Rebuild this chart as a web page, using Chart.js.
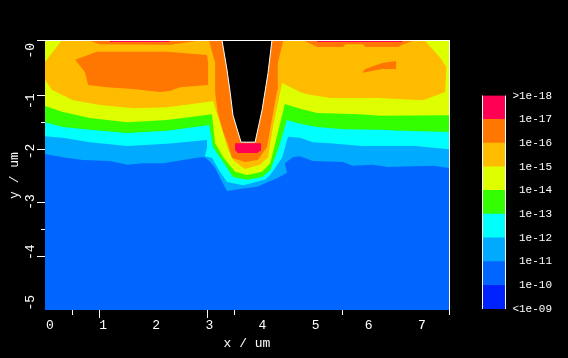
<!DOCTYPE html>
<html><head><meta charset="utf-8">
<style>html,body{margin:0;padding:0;background:#000;overflow:hidden}
#wrap{position:relative;width:568px;height:358px;background:#000}
canvas{position:absolute}
#main{left:0;top:0}#bar{left:470px;top:85px}</style>
<script src="https://cdn.jsdelivr.net/npm/chart.js@4"></script></head>
<body><div id="wrap"><canvas id="main" width="568" height="358"></canvas><canvas id="bar" width="98" height="235"></canvas></div>
<script>
// colour bar
const levelLabels = ["<1e-09","1e-10","1e-11","1e-12","1e-13","1e-14","1e-15","1e-16","1e-17",">1e-18"];
const levelColors = ["#0022ff","#0066ff","#00aaff","#00ffff","#33ff00","#ddff00","#ffbb00","#ff7700","#ff0055"];
// axes
const xTickValues = [0,1,2,3,4,5,6,7];
const yTickValues = [0,1,2,3,4,5];
const xMajorTicks = [1,3];
const xMinorTicks = [0.5,3.5,5.5];
const yMajorTicks = [-1,-2,-3,-4];
const yMinorTicks = [-1.5,-3.5];
// contours (x / um, y / um)
const domainX = [0,7.48,7.48,0];
const domainY = [0,0,-5,-5];
const c11X = [0,.33,.70,1.20,1.52,1.81,2.19,2.56,2.87,2.96,3.06,3.15,3.28,3.37,3.61,3.93,4.13,4.30,4.48,4.44,4.59,4.72,4.96,5.52,5.69,6.06,6.35,7.19,7.48,7.48,0];
const c11Y = [-2.10,-2.16,-2.21,-2.23,-2.30,-2.27,-2.27,-2.21,-2.16,-2.16,-2.25,-2.36,-2.62,-2.79,-2.75,-2.71,-2.62,-2.55,-2.45,-2.27,-2.16,-2.14,-2.23,-2.25,-2.32,-2.30,-2.34,-2.32,-2.36,0,0];
const c12X = [0,.33,.83,1.52,2.26,3,3,2.96,3.09,3.24,3.37,3.67,4.07,4.17,4.39,4.50,4.72,4.96,5.28,5.87,6.85,7.48,7.48,0];
const c12Y = [-1.77,-1.80,-1.88,-1.95,-1.91,-1.84,-1.99,-2.14,-2.17,-2.43,-2.62,-2.68,-2.58,-2.49,-2.17,-1.78,-1.80,-1.88,-1.90,-1.95,-1.95,-2.01,0,0];
const c13X = [0,.33,.83,1.52,2.26,3.04,3.11,3.30,3.48,3.74,4.02,4.17,4.31,4.48,4.72,5.04,5.52,6.20,6.63,7.48,7.48,0];
const c13Y = [-1.51,-1.60,-1.65,-1.71,-1.67,-1.56,-1.97,-2.25,-2.53,-2.58,-2.53,-2.40,-2.03,-1.47,-1.54,-1.60,-1.64,-1.65,-1.67,-1.69,0,0];
const c14X = [0,.33,.83,1.52,2.26,3.09,3.15,3.30,3.52,3.74,4.02,4.17,4.31,4.44,4.72,5.04,5.83,6.20,7.48,7.48,0];
const c14Y = [-1.21,-1.32,-1.43,-1.51,-1.47,-1.36,-1.90,-2.16,-2.43,-2.49,-2.43,-2.27,-1.71,-1.17,-1.26,-1.34,-1.36,-1.39,-1.38,0,0];
const c15X = [.30,0,0,.13,.52,1.02,1.63,2.26,3.11,3.28,3.37,3.48,3.70,3.98,4.13,4.22,4.39,4.72,4.85,5.28,6.15,7.0,7.41,7.43,7.31,7.04];
const c15Y = [0,-.39,-.72,-.91,-1.10,-1.19,-1.25,-1.23,-1.12,-1.65,-1.97,-2.21,-2.38,-2.30,-2.16,-1.60,-.78,-.95,-.99,-1.06,-1.06,-1.10,-.95,-.48,-.30,0];
const c16TrenchX = [3.04,3.15,3.15,3.20,3.30,3.39,3.46,3.70,3.94,4.11,4.20,4.30,4.31,4.41];
const c16TrenchY = [0,-.41,-.97,-1.34,-1.69,-1.93,-2.17,-2.25,-2.21,-1.97,-1.47,-.91,-.41,0];
const c16BlobX = [.56,.74,.80,1.15,1.63,2.13,2.31,2.50,3.02,3.02,3,2.26,.96];
const c16BlobY = [-.35,-.58,-.82,-.86,-.89,-.95,-.93,-.86,-.82,-.41,-.26,-.20,-.20];
const c16TopLeftX = [.83,1.02,2.31,2.81];
const c16TopLeftY = [0,-.06,-.07,0];
const c16TopRightX = [4.81,5.04,5.52,5.56,5.89,5.93,6.54,6.63,6.81];
const c16TopRightY = [0,-.11,-.11,-.06,-.06,-.11,-.11,-.06,0];
const c16SliverX = [5.87,5.93,6.24,6.50,6.50,6.24,5.93];
const c16SliverY = [-.59,-.52,-.41,-.37,-.52,-.52,-.58];
const c17BlobX = [3.52,4,4,3.93,3.57,3.52];
const c17BlobY = [-1.90,-1.90,-2.03,-2.08,-2.08,-2.03];
const c17TopLeftX = [1.2,2.3,2.3,1.2];
const c17TopLeftY = [0,0,-.02,-.02];
const c17TopRightX = [5.04,6.61,6.61,5.04];
const c17TopRightY = [0,0,-.02,-.02];
const trenchX = [3.28,3.37,3.43,3.48,3.63,3.89,4.02,4.13,4.20];
const trenchY = [0,-.54,-.97,-1.38,-1.88,-1.88,-1.28,-.59,0];

const FONT = '"Liberation Mono", monospace';
const layers = [
  [domainX,domainY,levelColors[1]],
  [c11X,c11Y,levelColors[2]],
  [c12X,c12Y,levelColors[3]],
  [c13X,c13Y,levelColors[4]],
  [c14X,c14Y,levelColors[5]],
  [c15X,c15Y,levelColors[6]],
  [c16TrenchX,c16TrenchY,levelColors[7]],
  [c16BlobX,c16BlobY,levelColors[7]],
  [c16TopLeftX,c16TopLeftY,levelColors[7]],
  [c16TopRightX,c16TopRightY,levelColors[7]],
  [c16SliverX,c16SliverY,levelColors[7]],
  [c17BlobX,c17BlobY,levelColors[8]],
  [c17TopLeftX,c17TopLeftY,levelColors[8]],
  [c17TopRightX,c17TopRightY,levelColors[8]],
  [trenchX,trenchY,"#000000"]
];
const datasets = layers.map((l,i)=>({
  data:l[0].map((x,j)=>({x,y:l[1][j]})),
  showLine:true,fill:'shape',backgroundColor:l[2],
  borderColor:l[0]===trenchX?'#ffffff':l[2],borderWidth:l[0]===trenchX?1:0,
  pointRadius:0,tension:0,order:-i
}));
const tickPlugin = {id:'frameTicks',afterDatasetsDraw(c){
  const g=c.ctx,X=c.scales.x,Y=c.scales.y,a=c.chartArea;
  g.save();g.strokeStyle='#fff';g.lineWidth=1;
  const line=(x1,y1,x2,y2)=>{g.beginPath();g.moveTo(x1,y1);g.lineTo(x2,y2);g.stroke();};
  const sx=v=>Math.round(X.getPixelForValue(v))+.5, sy=v=>Math.round(Y.getPixelForValue(v))+.5;
  xMajorTicks.forEach(v=>line(sx(v),a.bottom,sx(v),a.bottom+8));
  xMinorTicks.forEach(v=>line(sx(v),a.bottom,sx(v),a.bottom+5));
  yMajorTicks.forEach(v=>line(a.left-8,sy(v),a.left,sy(v)));
  yMinorTicks.forEach(v=>line(a.left-4,sy(v),a.left,sy(v)));
  line(a.left-8,a.top-.5,a.right+1,a.top-.5);
  line(a.right+.5,a.top,a.right+.5,a.bottom+5);
  g.restore();
}};
new Chart(document.getElementById('main'),{
  type:'scatter',
  data:{datasets},
  plugins:[tickPlugin],
  options:{
    responsive:false,animation:false,
    layout:{padding:{left:0,top:41,right:119,bottom:0}},
    plugins:{legend:{display:false},tooltip:{enabled:false}},
    scales:{
      x:{type:'linear',min:0,max:7.48,display:false},
      y:{type:'linear',min:-5,max:0,display:false},
      xTicks:{axis:'x',type:'linear',position:'bottom',min:-.094,max:7.51,
        afterBuildTicks:s=>{s.ticks=xTickValues.map(value=>({value}));},
        afterFit:s=>{s.height=48;},
        grid:{display:false},border:{display:false},
        ticks:{color:'#fff',font:{family:FONT,size:13},padding:0,maxRotation:0,minRotation:0,autoSkip:false,callback:v=>String(v)},
        title:{display:true,text:'x / um',color:'#fff',font:{family:FONT,size:13},padding:{top:2,bottom:7}}},
      yTicks:{axis:'y',type:'linear',position:'left',reverse:true,min:-.04,max:5.3,
        afterBuildTicks:s=>{s.ticks=yTickValues.map(value=>({value}));},
        afterFit:s=>{s.width=45;},
        grid:{display:false},border:{display:false},
        ticks:{color:'#fff',font:{family:FONT,size:13},padding:6,minRotation:90,maxRotation:90,autoSkip:false,callback:v=>'-'+v},
        title:{display:true,text:'y / um',color:'#fff',font:{family:FONT,size:13},padding:{top:7,bottom:2}}}
    }
  }
});
const barLines = {id:'barLines',afterDatasetsDraw(c){
  const g=c.ctx,a=c.chartArea;g.save();g.strokeStyle='#fff';g.lineWidth=1;
  [a.left+.5,a.right+.5].forEach(x=>{g.beginPath();g.moveTo(x,a.top);g.lineTo(x,a.bottom);g.stroke();});
  g.restore();
}};
new Chart(document.getElementById('bar'),{
  type:'bar',
  data:{labels:[''],datasets:levelColors.map(color=>({data:[1],backgroundColor:color,borderWidth:0,barPercentage:1,categoryPercentage:1}))},
  plugins:[barLines],
  options:{
    responsive:false,animation:false,
    layout:{padding:{left:12,top:10,right:16,bottom:11}},
    plugins:{legend:{display:false},tooltip:{enabled:false}},
    scales:{
      x:{stacked:true,display:false},
      y:{stacked:true,position:'right',min:0,max:9,afterFit:s=>{s.width=47;},
        grid:{display:false},border:{display:false},
        ticks:{color:'#fff',stepSize:1,autoSkip:false,crossAlign:'far',padding:4,font:{family:FONT,size:11},callback:(v,i)=>levelLabels[i]}}
    }
  }
});
</script></body></html>
